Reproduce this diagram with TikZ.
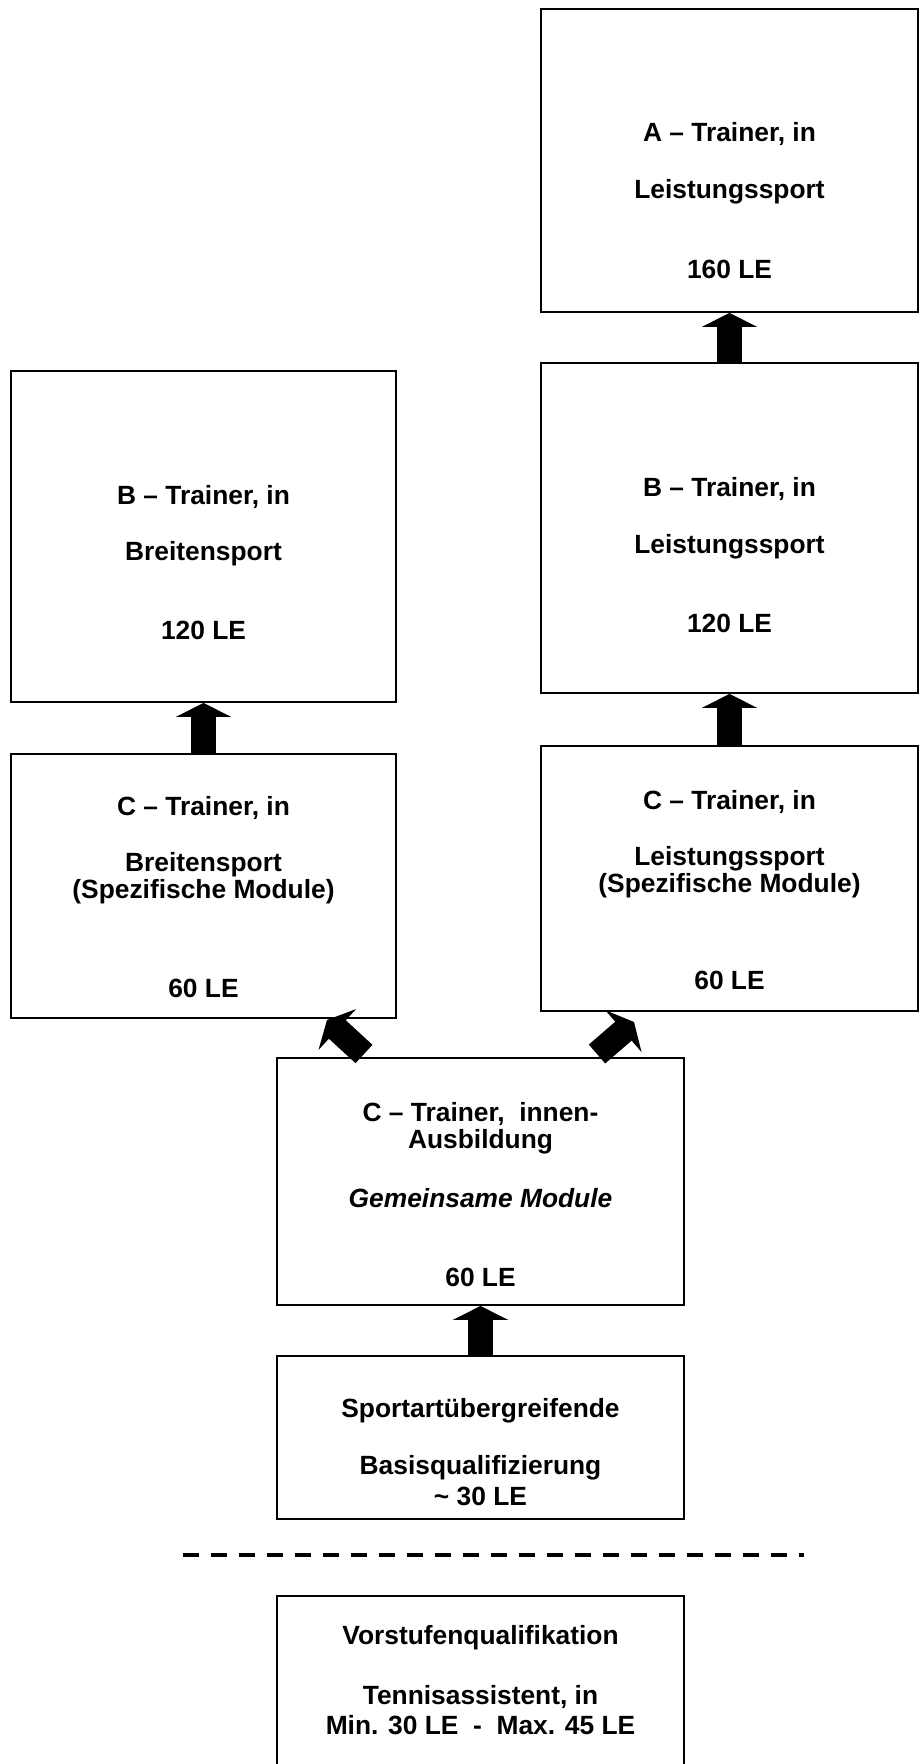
\documentclass[tikz,border=0pt]{standalone}
\usepackage{fontspec}
\setmainfont{Liberation Sans}
\usetikzlibrary{arrows.meta}

\begin{document}
\begin{tikzpicture}[x=0.02cm,y=0.02cm,
   box/.style={draw,line width=1.1pt,inner sep=0pt},
   txt/.style={anchor=base,inner sep=0pt,font=\fontsize{15}{18}\selectfont\bfseries},
   blk/.style={line width=0.5cm,-{Triangle[width=1.1cm,length=0.28cm]}}]
   \useasboundingbox (0,0) rectangle (919,-1764);
   \node[box,minimum width=7.54cm,minimum height=6.06cm] (a) at (729.5,-160.5) {};
   \node[box,minimum width=7.7cm,minimum height=6.62cm] (bl) at (203.5,-536.5) {};
   \node[box,minimum width=7.54cm,minimum height=6.6cm] (br) at (729.5,-528) {};
   \node[box,minimum width=7.7cm,minimum height=5.28cm] (cl) at (203.5,-886) {};
   \node[box,minimum width=7.54cm,minimum height=5.3cm] (cr) at (729.5,-878.5) {};
   \node[box,minimum width=8.14cm,minimum height=4.94cm] (cg) at (480.5,-1181.5) {};
   \node[box,minimum width=8.14cm,minimum height=3.26cm] (sb) at (480.5,-1437.5) {};
   \node[box,minimum width=8.14cm,minimum height=3.4cm] (vq) at (480.5,-1681) {};
   \node[txt] (a1) at (729.5,-142) {A – Trainer, in};
   \node[txt] (a2) at (729.5,-199) {Leistungssport};
   \node[txt] (a3) at (729.5,-278) {160 LE};
   \node[txt] (br1) at (729.5,-496) {B – Trainer, in};
   \node[txt] (br2) at (729.5,-553) {Leistungssport};
   \node[txt] (br3) at (729.5,-632) {120 LE};
   \node[txt] (bl1) at (203.5,-504) {B – Trainer, in};
   \node[txt] (bl2) at (203.5,-560) {Breitensport};
   \node[txt] (bl3) at (203.5,-639) {120 LE};
   \node[txt] (cl1) at (203.5,-815) {C – Trainer, in};
   \node[txt] (cl2) at (203.5,-871) {Breitensport};
   \node[txt] (cl3) at (203.5,-898) {(Spezifische Module)};
   \node[txt] (cl4) at (203.5,-997) {60 LE};
   \node[txt] (cr1) at (729.5,-809) {C – Trainer, in};
   \node[txt] (cr2) at (729.5,-865) {Leistungssport};
   \node[txt] (cr3) at (729.5,-892) {(Spezifische Module)};
   \node[txt] (cr4) at (729.5,-989) {60 LE};
   \node[txt] (cg1) at (480.5,-1121) {C – Trainer,~ innen-};
   \node[txt] (cg2) at (480.5,-1148) {Ausbildung};
   \node[txt] (cg3) at (480.5,-1207) {\itshape Gemeinsame Module};
   \node[txt] (cg4) at (480.5,-1286) {60 LE};
   \node[txt] (sb1) at (480.5,-1417) {Sportartübergreifende};
   \node[txt] (sb2) at (480.5,-1474) {Basisqualifizierung};
   \node[txt] (sb3) at (480.5,-1505) {\textasciitilde{} 30 LE};
   \node[txt] (vq1) at (480.5,-1644) {Vorstufenqualifikation};
   \node[txt] (vq2) at (480.5,-1704) {Tennisassistent, in};
   \node[txt] (vq3) at (480.5,-1734) {Min. 30 LE~ -~ Max. 45 LE};
   \draw[blk] (br.north) -- (a.south);
   \draw[blk] (cr.north) -- (br.south);
   \draw[blk] (cl.north) -- (bl.south);
   \draw[blk] (sb.north) -- (cg.south);
   \coordinate (lt) at (364,-1054);
   \coordinate (lh) at (327,-1020);
   \coordinate (rt) at (597,-1054);
   \coordinate (rh) at (634,-1022);
   \draw[blk] (lt) -- (lh);
   \draw[blk] (rt) -- (rh);
   \coordinate (d1) at (183,-1555);
   \coordinate (d2) at (804,-1555);
   \draw[line width=0.08cm,dash pattern=on 0.32cm off 0.24cm] (d1) -- (d2);
\end{tikzpicture}
\end{document}
